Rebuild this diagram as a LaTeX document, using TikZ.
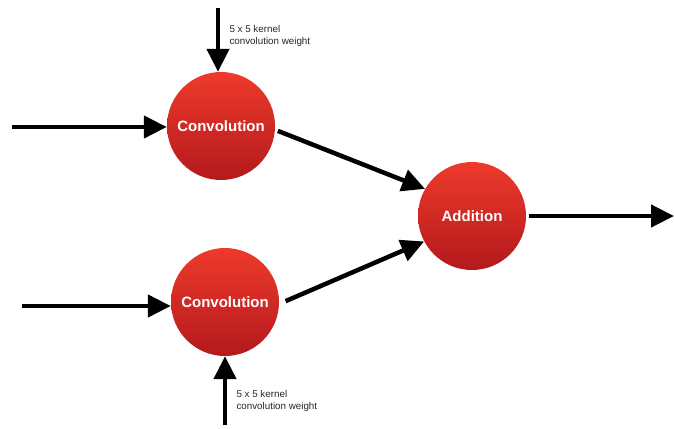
\documentclass[tikz,border=0pt]{standalone}
\usepackage{fontspec}
\setmainfont{Liberation Sans}
\usetikzlibrary{arrows.meta}
\definecolor{redtop}{HTML}{EE3A2C}
\definecolor{redbot}{HTML}{B3191C}
\begin{document}
\begin{tikzpicture}[x=1pt,y=-1pt,
  op/.style={circle,minimum size=108pt,inner sep=0pt,top color=redtop,bottom color=redbot,
    draw=none,text=white,font=\fontsize{15}{17}\selectfont\bfseries},
  flow/.style={line width=4.5pt,-{Triangle[length=23pt,width=22pt]}},
  note/.style={align=left,anchor=west,font=\fontsize{9.8}{12}\selectfont,text=black!85}]
\useasboundingbox (0,0) rectangle (674,428);
\node[op] (c1) at (221,126) {Convolution};
\node[op] (c2) at (225,302) {Convolution};
\node[op] (add) at (472,216) {Addition};
\coordinate (in1) at (12,127);
\coordinate (in2) at (22,306);
\coordinate (w1) at (218,8);
\coordinate (w2) at (225,425);
\coordinate (out) at (674,216);
\draw[flow] (in1) -- (c1.west |- in1);
\draw[flow] (in2) -- (c2.west |- in2);
\draw[flow] (w1) -- (c1.north -| w1);
\draw[flow] (w2) -- (c2.south);
\draw[flow,shorten <=3pt] (c1.-4) -- (add.150);
\draw[flow,shorten <=7pt] (c2.-2) -- (add.-152);
\draw[flow,shorten <=3pt] (add.east) -- (out);
\node[note] (n1) at (226,36) {5 x 5 kernel\\convolution weight};
\node[note] (n2) at (233,401) {5 x 5 kernel\\convolution weight};
\end{tikzpicture}
\end{document}
